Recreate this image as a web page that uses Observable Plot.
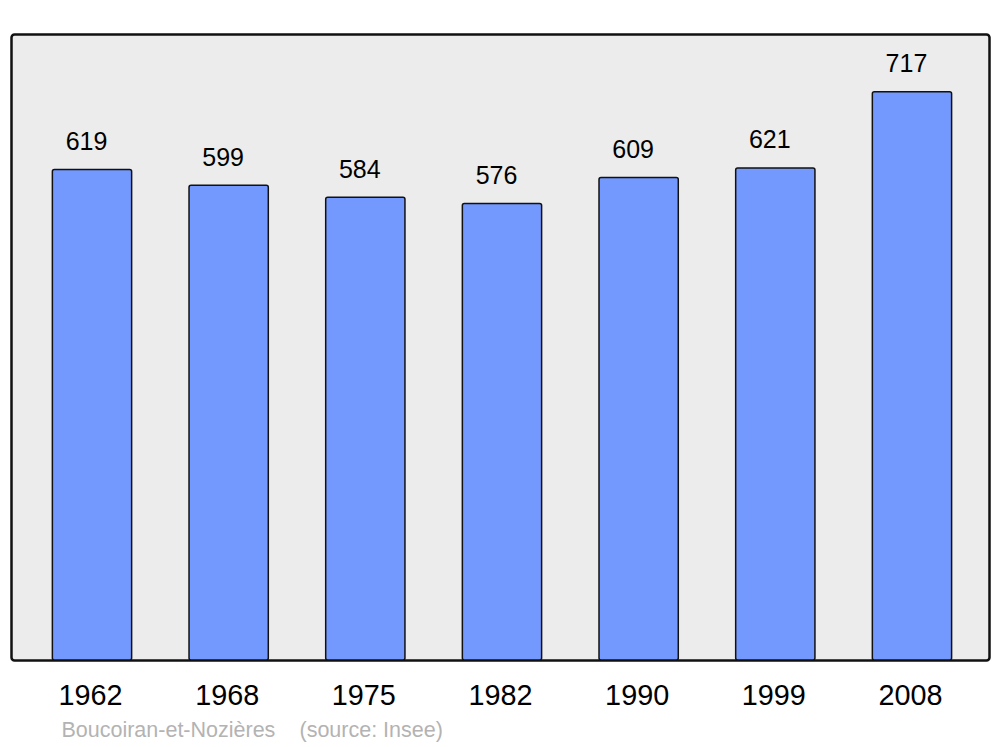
<!DOCTYPE html>
<html>
<head>
<meta charset="utf-8">
<script src="https://cdn.jsdelivr.net/npm/d3@7"></script>
<script src="https://cdn.jsdelivr.net/npm/@observablehq/plot@0.6"></script>
<style>
  html, body { margin: 0; padding: 0; background: #ffffff; }
  #chart svg { display: block; }
</style>
</head>
<body>
<div id="chart"></div>
<script>
const years = ["1962", "1968", "1975", "1982", "1990", "1999", "2008"];
const population = [619, 599, 584, 576, 609, 621, 717];
const placeName = "Boucoiran-et-Nozières";
const sourceNote = "(source: Insee)";

const data = years.map((y, i) => ({year: y, value: population[i]}));
const font = "'Liberation Sans', Arial, sans-serif";

const chart = Plot.plot({
  width: 1000,
  height: 747,
  marginTop: 34,
  marginBottom: 87,
  marginLeft: 23.67,
  marginRight: 19.7,
  style: {fontFamily: font, background: "#ffffff"},
  x: {domain: years, paddingInner: 0.42, paddingOuter: 0.21, round: false, label: null},
  y: {domain: [0, 790], axis: null},
  marks: [
    Plot.frame({
      fill: "#ececec",
      stroke: "#111111",
      strokeWidth: 2.5,
      rx: 3,
      insetLeft: -12.67,
      insetRight: -8.7
    }),
    Plot.barY(data, {
      x: "year",
      y: "value",
      fill: "#7399ff",
      stroke: "#111111",
      strokeWidth: 1.5,
      rx: 2
    }),
    Plot.text(data, {
      x: "year",
      y: "value",
      text: d => String(d.value),
      lineAnchor: "bottom",
      dy: -20,
      dx: -6,
      fontSize: 25,
      fill: "#000000"
    }),
    Plot.axisX({
      tickSize: 0,
      tickPadding: 24,
      fontSize: 28.8,
      dx: -2,
      fill: "#000000",
      label: null
    }),
    Plot.text([placeName], {
      frameAnchor: "bottom-left",
      textAnchor: "start",
      lineAnchor: "bottom",
      dx: 37.3,
      dy: 76.7,
      fontSize: 21.5,
      fill: "#b3b3b3"
    }),
    Plot.text([sourceNote], {
      frameAnchor: "bottom-left",
      textAnchor: "start",
      lineAnchor: "bottom",
      dx: 275.3,
      dy: 76.7,
      fontSize: 21.5,
      fill: "#b3b3b3"
    })
  ]
});

document.getElementById("chart").appendChild(chart);
</script>
</body>
</html>
